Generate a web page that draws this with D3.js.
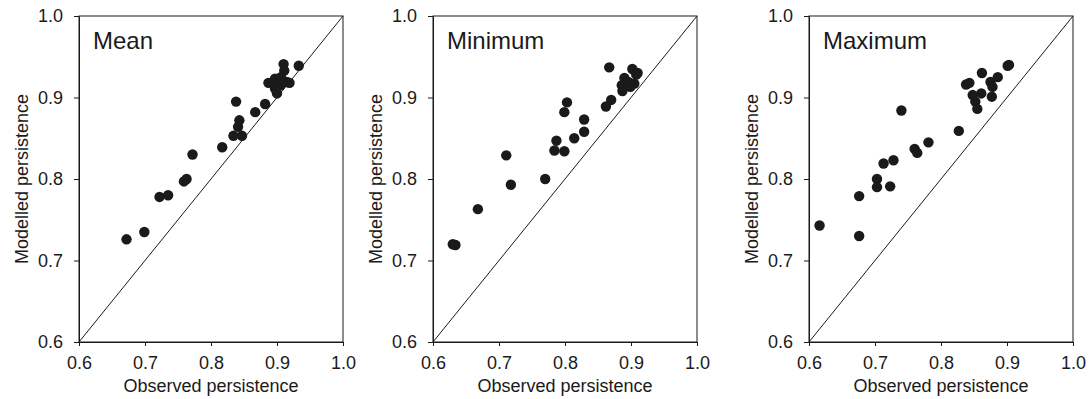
<!DOCTYPE html>
<html>
<head>
<meta charset="utf-8">
<script src="https://cdn.jsdelivr.net/npm/d3@7"></script>
<style>
  html, body { margin: 0; padding: 0; background: #fff; }
  svg { display: block; }
  text { font-family: "Liberation Sans", Arial, Helvetica, sans-serif; fill: #1a1a1a; }
</style>
</head>
<body>
<svg id="chart" width="1091" height="399"></svg>
<script>
// ---- Data (observed, modelled persistence) ----
const panelTitles = ["Mean", "Minimum", "Maximum"];
const tickValues = [0.6, 0.7, 0.8, 0.9, 1.0];
const xAxisTitle = "Observed persistence";
const yAxisTitle = "Modelled persistence";

const meanObserved = [0.672, 0.699, 0.722, 0.735, 0.759, 0.763, 0.772, 0.817, 0.838, 0.834, 0.847, 0.843, 0.841, 0.867, 0.882, 0.887, 0.897, 0.897, 0.900, 0.910, 0.911, 0.915, 0.906, 0.919, 0.933, 0.905];
const meanModelled = [0.726, 0.735, 0.778, 0.780, 0.797, 0.800, 0.830, 0.839, 0.895, 0.853, 0.853, 0.872, 0.864, 0.882, 0.892, 0.918, 0.923, 0.911, 0.905, 0.941, 0.933, 0.919, 0.925, 0.918, 0.939, 0.915];

const minObserved = [0.630, 0.634, 0.668, 0.711, 0.718, 0.770, 0.787, 0.784, 0.799, 0.803, 0.799, 0.814, 0.829, 0.829, 0.862, 0.870, 0.867, 0.890, 0.886, 0.887, 0.896, 0.899, 0.902, 0.908, 0.910, 0.905];
const minModelled = [0.720, 0.719, 0.763, 0.829, 0.793, 0.800, 0.847, 0.835, 0.834, 0.894, 0.882, 0.850, 0.873, 0.858, 0.889, 0.897, 0.937, 0.924, 0.915, 0.908, 0.919, 0.913, 0.935, 0.928, 0.930, 0.917];

const maxObserved = [0.616, 0.676, 0.676, 0.703, 0.703, 0.723, 0.713, 0.728, 0.740, 0.760, 0.764, 0.781, 0.827, 0.838, 0.843, 0.862, 0.848, 0.852, 0.855, 0.861, 0.875, 0.877, 0.878, 0.886, 0.901, 0.903];
const maxModelled = [0.743, 0.779, 0.730, 0.800, 0.790, 0.791, 0.819, 0.823, 0.884, 0.837, 0.832, 0.845, 0.859, 0.916, 0.918, 0.930, 0.903, 0.895, 0.886, 0.905, 0.919, 0.901, 0.913, 0.925, 0.939, 0.940];

const panelObserved = [meanObserved, minObserved, maxObserved];
const panelModelled = [meanModelled, minModelled, maxModelled];

// ---- Layout ----
const svg = d3.select("#chart");
const ink = "#1a1a1a";
const plotTop = 16, plotBottom = 342;
const panelLefts = [79, 433, 809];
const plotWidth = 264;

panelTitles.forEach((title, i) => {
  const left = panelLefts[i];
  const x = d3.scaleLinear().domain([0.6, 1.0]).range([left, left + plotWidth]);
  const y = d3.scaleLinear().domain([0.6, 1.0]).range([plotBottom, plotTop]);
  const g = svg.append("g");

  // frame
  g.append("rect")
    .attr("x", x(0.6)).attr("y", y(1.0))
    .attr("width", x(1.0) - x(0.6)).attr("height", y(0.6) - y(1.0))
    .attr("fill", "none").attr("stroke", ink).attr("stroke-width", 1);

  // 1:1 line
  g.append("line")
    .attr("x1", x(0.6)).attr("y1", y(0.6))
    .attr("x2", x(1.0)).attr("y2", y(1.0))
    .attr("stroke", ink).attr("stroke-width", 1);

  // axes
  const xAxis = d3.axisBottom(x).tickValues(tickValues).tickFormat(d3.format(".1f"))
    .tickSize(4).tickPadding(10).tickSizeOuter(0);
  const yAxis = d3.axisLeft(y).tickValues(tickValues).tickFormat(d3.format(".1f"))
    .tickSize(5).tickPadding(11).tickSizeOuter(0);

  const gx = g.append("g").attr("transform", `translate(0,${plotBottom})`).call(xAxis);
  const gy = g.append("g").attr("transform", `translate(${left},0)`).call(yAxis);
  [gx, gy].forEach(a => {
    a.select(".domain").attr("stroke", ink);
    a.selectAll(".tick line").attr("stroke", ink);
    a.selectAll(".tick text").attr("font-size", 18)
      .attr("font-family", "'Liberation Sans', Arial, sans-serif").attr("fill", ink);
  });

  // points
  const pts = panelObserved[i].map((o, k) => [o, panelModelled[i][k]]);
  g.selectAll("circle.pt").data(pts).enter().append("circle")
    .attr("class", "pt")
    .attr("cx", d => x(d[0])).attr("cy", d => y(d[1]))
    .attr("r", 5.2).attr("fill", ink);

  // panel title
  g.append("text")
    .attr("x", left + 14).attr("y", 49)
    .attr("font-size", 24).text(title);

  // axis titles
  g.append("text")
    .attr("x", left + plotWidth / 2).attr("y", 392)
    .attr("text-anchor", "middle").attr("font-size", 18).text(xAxisTitle);

  g.append("text")
    .attr("transform", `translate(${left - 51},${(plotTop + plotBottom) / 2}) rotate(-90)`)
    .attr("text-anchor", "middle").attr("font-size", 18).text(yAxisTitle);
});
</script>
</body>
</html>
